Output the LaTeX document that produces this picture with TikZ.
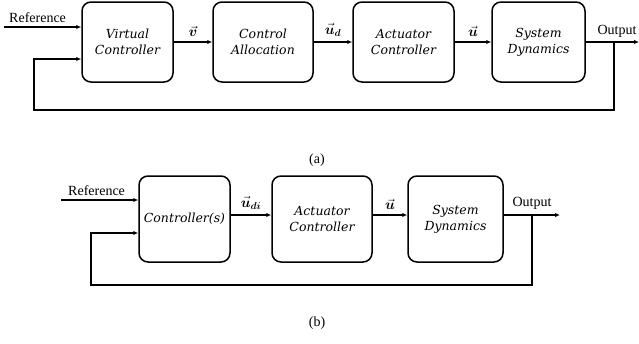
\documentclass[tikz,border=0pt]{standalone}
\usepackage{amsmath,bm}
\usepackage{fontspec}
\setmainfont{Liberation Serif}
\newfontfamily\blockfont{DejaVu Serif}
\usetikzlibrary{arrows.meta}
\tikzset{
  block/.style={draw,line width=1.5pt,rounded corners=9pt,align=center,
    inner sep=0pt,font=\blockfont\itshape\fontsize{12.5}{16}\selectfont},
  sig/.style={-{Latex[length=5pt,width=4.5pt]},line width=1.3pt},
  lbl/.style={font=\fontsize{14}{16}\selectfont,inner sep=1pt},
  vlbl/.style={font=\fontsize{14}{16}\selectfont,inner sep=1pt,above=4pt},
}
\begin{document}
\begin{tikzpicture}[x=1pt,y=-1pt,line cap=butt,line join=miter]
\useasboundingbox (0,0) rectangle (639,343);
% upper loop
\node[block,minimum width=91pt,minimum height=80pt] (vc) at (127.5,42) {Virtual\\Controller};
\node[block,minimum width=100pt,minimum height=80pt] (ca) at (263,42) {Control\\Allocation};
\node[block,minimum width=101pt,minimum height=80pt] (ac) at (403.5,42) {Actuator\\Controller};
\node[block,minimum width=93pt,minimum height=80pt] (sd) at (538.5,42) {System\\Dynamics};
\coordinate (refin) at (4,27);
\coordinate (out) at (639,42);
\coordinate (tap) at (614,42);
\coordinate (fb) at (34,59);
\draw[sig] (refin) -- (refin -| vc.west);
\node[lbl,anchor=south west] (reflbl) at (8,24) {Reference};
\draw[sig] (vc.east) -- (ca.west) node[midway,vlbl] (vlbl) {$\vec{\bm{v}}$};
\draw[sig] (ca.east) -- (ac.west) node[midway,vlbl] (udlbl) {$\vec{\bm{u}}_{\bm{d}}$};
\draw[sig] (ac.east) -- (sd.west) node[midway,vlbl] (ulbl) {$\vec{\bm{u}}$};
\draw[sig] (sd.east) -- (out);
\node[lbl,anchor=south] (outlbl) at (617,39) {Output};
\draw[sig] (tap) |- (34,110) -- (fb) -- (fb -| vc.west);
\node[lbl] (capa) at (317,160) {(a)};
% lower loop
\node[block,minimum width=91pt,minimum height=86pt] (ctl) at (184.5,219) {Controller(s)};
\node[block,minimum width=100pt,minimum height=86pt] (ac2) at (322,219) {Actuator\\Controller};
\node[block,minimum width=95pt,minimum height=86pt] (sd2) at (455.5,219) {System\\Dynamics};
\coordinate (refin2) at (61,200);
\coordinate (out2) at (560,215);
\coordinate (tap2) at (532,215);
\coordinate (fb2) at (91,233);
\draw[sig] (refin2) -- (refin2 -| ctl.west);
\node[lbl,anchor=south west] (reflbl2) at (67,197) {Reference};
\draw[sig] (ctl.east |- 0,215) -- (ac2.west |- 0,215) node[midway,vlbl] (udilbl) {$\vec{\bm{u}}_{\bm{di}}$};
\draw[sig] (ac2.east |- 0,215) -- (sd2.west |- 0,215) node[midway,vlbl] (ulbl2) {$\vec{\bm{u}}$};
\draw[sig] (sd2.east |- 0,215) -- (out2);
\node[lbl,anchor=south] (outlbl2) at (532,211) {Output};
\draw[sig] (tap2) |- (91,285) -- (fb2) -- (fb2 -| ctl.west);
\node[lbl] (capb) at (317,323) {(b)};
\end{tikzpicture}
\end{document}
